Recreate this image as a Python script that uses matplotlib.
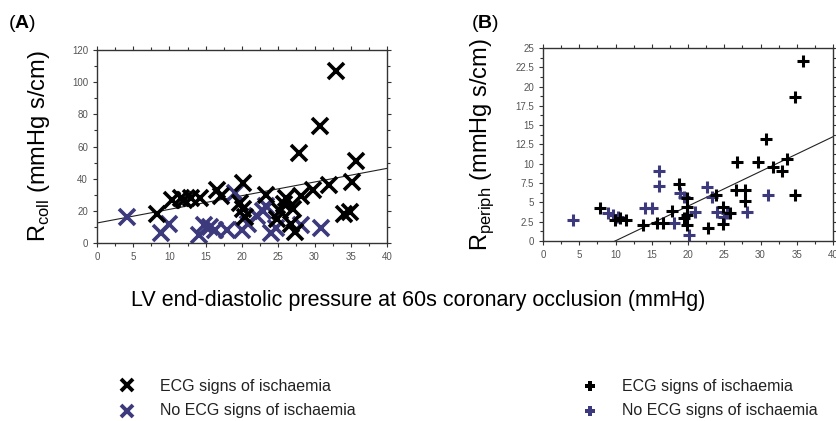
import matplotlib.pyplot as plt
from matplotlib.ticker import MultipleLocator

plt.rcParams['font.family'] = ['Liberation Sans', 'DejaVu Sans']
plt.rcParams['mathtext.fontset'] = 'custom'
plt.rcParams['mathtext.rm'] = 'Liberation Sans'
plt.rcParams['mathtext.bf'] = 'Liberation Sans:bold'

# Panel A: collateral resistance vs LVEDP
a_ecg_x = [33, 30.7, 27.9, 35.7, 35.1, 32, 29.8, 28.2, 26.1, 23.3, 20.1, 19.7, 20.1, 20.4,
           16.6, 17.1, 14.2, 13, 11.6, 10.3, 12, 8.3, 25.3, 27, 26.7, 27.3, 24.8, 34, 34.9, 25.8]
a_ecg_y = [107, 73, 56, 51, 38, 36, 33, 29, 28, 30, 37, 25, 21, 16,
           33, 29, 28, 28, 28, 27, 27, 18, 20, 21, 12, 7, 15, 18, 19, 24]
a_no_x = [4.1, 9.9, 8.8, 14, 14.8, 15.6, 16.3, 17.9, 19, 20, 20.8, 22, 22.9, 23.3, 24, 24.7, 28.2, 30.9]
a_no_y = [16, 12, 6, 5, 11, 10, 8, 8, 31, 8, 12, 17, 20, 23, 6, 9, 11, 9]

# Panel B: peripheral resistance vs LVEDP
b_ecg_x = [35.9, 34.8, 30.8, 26.7, 29.7, 31.7, 32.9, 33.7, 34.8, 26.6, 27.9, 27.9, 23.9, 24.8,
           24.8, 25.8, 22.8, 18.8, 19.8, 19.8, 19.8, 19.5, 19.8, 17.8, 16.6, 15.7, 13.8, 11.5,
           10.6, 9.9, 7.8]
b_ecg_y = [23.3, 18.6, 13.2, 10.2, 10.2, 9.6, 9.1, 10.6, 6, 6.6, 6.6, 5.1, 6, 4.4,
           2.2, 3.6, 1.6, 7.4, 5.5, 4.4, 3.3, 2.9, 2, 3.9, 2.3, 2.3, 2, 2.7,
           2.9, 2.7, 4.2]
b_no_x = [4.1, 8.9, 9.7, 10.4, 16, 16, 14.1, 15.1, 18.1, 18.9, 19.5, 20.2, 21, 22.6, 23.3,
          24, 24.9, 25.4, 28.2, 31]
b_no_y = [2.7, 3.6, 3.3, 3.1, 9, 7.1, 4.2, 4.2, 2.3, 6.2, 5.7, 0.8, 3.7, 7, 5.7,
          3.8, 3.1, 3.6, 3.8, 5.9]

# regression lines (intercept, slope)
a_fit = (12.4, 0.85)
b_fit = (-4.5, 0.45)

blue = '#3c3a7c'
tick_col = '#555555'

fig = plt.figure(figsize=(8.36, 4.21), dpi=100)
axA = fig.add_axes([0.116, 0.423, 0.347, 0.458])
axB = fig.add_axes([0.6495, 0.428, 0.347, 0.458])


def style(ax, ymax, ymaj):
    ax.set_xlim(0, 40)
    ax.set_ylim(0, ymax)
    ax.xaxis.set_major_locator(MultipleLocator(5))
    ax.xaxis.set_minor_locator(MultipleLocator(2.5))
    ax.yaxis.set_major_locator(MultipleLocator(ymaj))
    ax.yaxis.set_minor_locator(MultipleLocator(ymaj / 2))
    ax.tick_params(which='both', direction='out', top=True, right=True,
                   labeltop=False, labelright=False, colors='#333333',
                   labelcolor=tick_col, labelsize=7, width=0.8)
    ax.tick_params(which='major', length=3)
    ax.tick_params(which='minor', length=2)
    for s in ax.spines.values():
        s.set_color('#333333')
        s.set_linewidth(1.0)


xs = [0, 40]
axA.plot(xs, [a_fit[0] + a_fit[1] * x for x in xs], color='#222222', lw=0.8, zorder=1)
axA.plot(a_no_x, a_no_y, 'x', color=blue, ms=12, mew=2.6, zorder=2)
axA.plot(a_ecg_x, a_ecg_y, 'x', color='black', ms=12, mew=2.6, zorder=3)
style(axA, 120, 20)
axA.set_ylabel(r'R$_{\mathrm{coll}}$ (mmHg s/cm)', fontsize=17, labelpad=14)

axB.plot(xs, [b_fit[0] + b_fit[1] * x for x in xs], color='#222222', lw=0.8, zorder=1)
axB.plot(b_no_x, b_no_y, '+', color=blue, ms=8, mew=2.2, zorder=2)
axB.plot(b_ecg_x, b_ecg_y, '+', color='black', ms=8, mew=2.2, zorder=3)
style(axB, 25, 2.5)
axB.yaxis.set_major_formatter(plt.FuncFormatter(lambda v, p: f'{v:g}'))
axB.set_ylabel(r'R$_{\mathrm{periph}}$ (mmHg s/cm)', fontsize=17, labelpad=14)

fig.text(0.01, 0.943, r'($\mathbf{A}$)', fontsize=14, va='center')
fig.text(0.563, 0.943, r'($\mathbf{B}$)', fontsize=14, va='center')

fig.text(0.5, 0.287, 'LV end-diastolic pressure at 60s coronary occlusion (mmHg)',
         fontsize=15.5, ha='center', va='center')

# legends drawn by hand
fig.lines.append(plt.Line2D([127 / 836], [1 - 385 / 421], marker='x', color='black',
                            ms=9, mew=2.8, transform=fig.transFigure))
fig.lines.append(plt.Line2D([127 / 836], [1 - 411 / 421], marker='x', color=blue,
                            ms=9, mew=2.8, transform=fig.transFigure))
fig.lines.append(plt.Line2D([590 / 836], [1 - 386 / 421], marker='P', color='black',
                            ms=7, mew=0, transform=fig.transFigure))
fig.lines.append(plt.Line2D([590 / 836], [1 - 411 / 421], marker='P', color=blue,
                            ms=7, mew=0, transform=fig.transFigure))
for x0 in (160 / 836, 622 / 836):
    fig.text(x0, 1 - 386 / 421, 'ECG signs of ischaemia', fontsize=11.5, va='center', color='#222222')
    fig.text(x0, 1 - 411 / 421, 'No ECG signs of ischaemia', fontsize=11.5, va='center', color='#222222')

fig.savefig('out.png', dpi=100)
